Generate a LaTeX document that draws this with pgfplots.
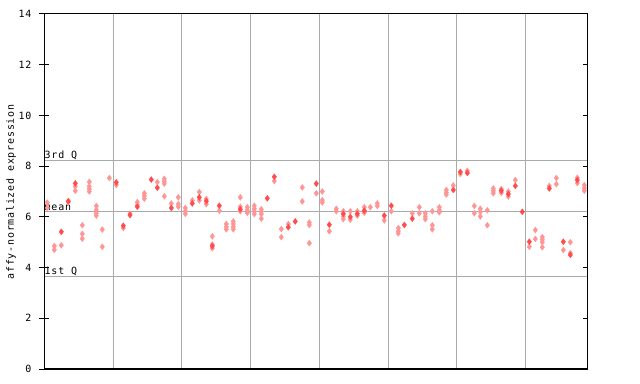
\documentclass[border=0pt]{standalone}
\usepackage{fontspec}
\setmainfont{DejaVu Sans Mono}[LetterSpace=8]
\usepackage{pgfplots}
\usepackage{pgfplotstable}
\pgfplotsset{compat=1.18}
\definecolor{ptc}{RGB}{255,150,150}
\definecolor{pts}{RGB}{255,75,75}
\definecolor{gl}{RGB}{170,170,170}
\pgfplotstableread{
x y
47.3 6.56
47.3 6.35
54.3 4.85
54.3 4.70
61.3 4.88
68.3 6.58
75.3 7.20
75.3 7.03
82.3 5.67
82.3 5.33
82.3 5.14
89.3 7.38
89.3 7.20
89.3 7.10
89.3 7.00
96.3 6.43
96.3 6.27
96.3 6.14
96.3 6.05
102.3 5.50
102.3 4.82
109.3 7.53
116.3 7.26
123.3 5.56
130.0 6.12
137.3 6.58
137.3 6.48
144.3 6.93
144.3 6.83
144.3 6.72
157.3 7.37
164.3 7.50
164.3 7.40
164.3 7.31
164.3 6.81
171.3 6.53
178.3 6.77
178.3 6.50
178.3 6.40
185.3 6.35
185.3 6.23
185.3 6.12
192.3 6.65
199.3 6.98
199.3 6.65
206.3 6.71
206.3 6.50
212.3 5.23
212.3 4.91
212.3 4.76
219.3 6.24
226.3 5.72
226.3 5.61
226.3 5.51
233.3 5.82
233.3 5.72
233.3 5.61
233.3 5.51
240.3 6.77
240.3 6.40
240.3 6.22
247.3 6.38
247.3 6.27
247.3 6.16
254.3 6.44
254.3 6.32
254.3 6.22
254.3 6.11
261.3 6.30
261.3 6.21
261.3 6.11
261.3 5.93
274.3 7.41
281.3 5.52
281.3 5.20
288.3 5.72
302.3 7.16
302.3 6.61
309.3 5.78
309.3 5.68
309.3 4.96
316.3 6.93
322.3 7.00
322.3 6.66
322.3 6.57
329.3 5.43
336.3 6.32
336.3 6.22
343.3 6.22
343.3 6.02
343.3 5.91
350.3 6.22
350.3 5.89
357.3 6.22
357.3 6.05
364.3 6.38
364.3 6.16
370.3 6.38
377.3 6.53
377.3 6.43
384.3 5.86
391.3 6.22
398.3 5.56
398.3 5.44
398.3 5.35
412.3 6.14
419.3 6.38
419.3 6.14
425.3 6.14
425.3 6.02
425.3 5.91
432.3 6.22
432.3 5.67
432.3 5.51
439.3 6.38
439.3 6.27
439.3 6.18
446.3 7.06
446.3 6.96
446.3 6.88
453.3 7.24
460.3 7.69
467.3 7.82
474.3 6.43
474.3 6.14
480.3 6.32
480.3 6.20
480.3 6.02
487.3 6.26
487.3 5.67
493.3 7.12
493.3 7.03
493.3 6.93
501.3 7.10
501.3 6.95
508.3 7.00
508.3 6.80
515.3 7.45
529.3 4.82
535.3 5.48
535.3 5.13
542.3 5.20
542.3 5.10
542.3 5.00
542.3 4.80
549.3 7.22
556.3 7.53
556.3 7.29
563.3 4.69
570.3 5.00
570.3 4.57
577.3 7.54
577.3 7.33
584.3 7.25
584.3 7.13
584.3 7.03
}\checkered
\pgfplotstableread{
x y
61.3 5.41
68.3 6.62
75.3 7.32
116.3 7.36
123.3 5.65
130.0 6.07
137.3 6.40
151.3 7.47
157.3 7.15
171.3 6.35
192.3 6.53
199.3 6.77
206.3 6.62
212.3 4.85
219.3 6.44
240.3 6.30
267.3 6.73
274.3 7.58
288.3 5.59
295.3 5.82
316.3 7.31
329.3 5.69
343.3 6.12
350.3 6.00
357.3 6.12
364.3 6.25
384.3 6.05
391.3 6.44
404.3 5.68
412.3 5.93
453.3 7.06
460.3 7.77
467.3 7.73
501.3 7.03
508.3 6.90
515.3 7.22
522.3 6.20
529.3 5.02
549.3 7.12
563.3 5.02
570.3 4.50
577.3 7.45
}\solid
\begin{document}
\begin{tikzpicture}
\pgfplotsset{every axis/.append style={
  at={(44bp,15bp)}, anchor=south west, scale only axis,
  width=543.5bp, height=355bp,
  xmin=44, xmax=587.5, ymin=0, ymax=14,
  axis line style={black, line width=1bp},
  tick style={black, line width=1bp},
  tick label style={font=\fontsize{10}{11}\selectfont},
  /pgf/number format/assume math mode=true,
}}
\begin{axis}[
  ytick={0,2,...,14}, ytick pos=left, tick align=center, major tick length=10bp,
  yticklabel style={xshift=-4bp},
  xtick={113.3,181.3,250.3,319.3,388.7,456.3,525.3}, xticklabels={},
  xmajorgrids, x grid style={gl, line width=1bp},
  major x tick style={draw=none},
  clip=false,
]
\draw[gl, line width=1bp] (axis cs:44,8.23) -- (axis cs:587.5,8.23);
\draw[gl, line width=1bp] (axis cs:44,6.23) -- (axis cs:587.5,6.23);
\draw[gl, line width=1bp] (axis cs:44,3.63) -- (axis cs:587.5,3.63);
\node[anchor=south west, inner sep=0.5bp, font=\fontsize{10}{11}\selectfont] at (axis cs:44,8.23) {3rd Q};
\node[anchor=south west, inner sep=0.5bp, font=\fontsize{10}{11}\selectfont] at (axis cs:44,6.23) {mean};
\node[anchor=south west, inner sep=0.5bp, font=\fontsize{10}{11}\selectfont] at (axis cs:44,3.63) {1st Q};
\addplot[only marks, mark=diamond*, mark size=3bp, mark options={fill=ptc, draw=ptc, line width=0.3bp}] table[x=x,y=y] {\checkered};
\addplot[only marks, mark=diamond*, mark size=3bp, mark options={fill=pts, draw=pts, line width=0.3bp}] table[x=x,y=y] {\solid};
\end{axis}
\begin{axis}[
  ytick={0,2,...,14}, ytick pos=right, tick align=inside, major tick length=5bp,
  yticklabels={}, xtick=\empty,
]
\end{axis}
\node[rotate=90, font=\fontsize{10}{11}\selectfont] at (11bp,192bp) {affy-normalized expression};
\pgfresetboundingbox
\path[use as bounding box] (0bp,0bp) rectangle (640bp,384bp);
\end{tikzpicture}
\end{document}
